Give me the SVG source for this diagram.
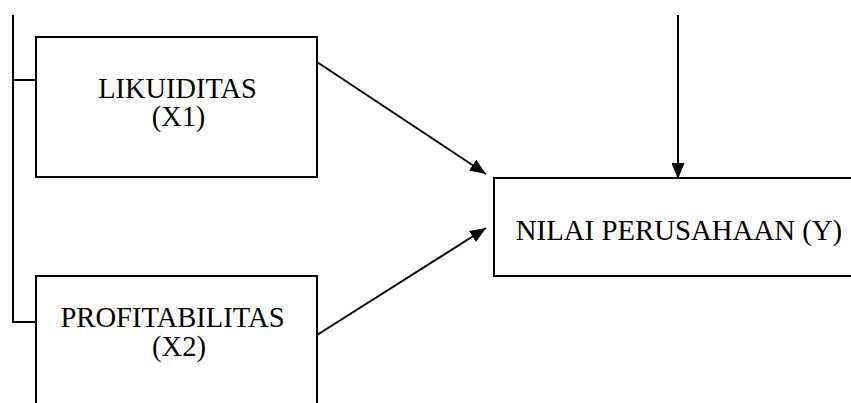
<svg xmlns="http://www.w3.org/2000/svg" width="851" height="403" viewBox="0 0 851 403">
<style>
.box{fill:#fff;stroke:#000;stroke-width:2}
.ln{fill:none;stroke:#000;stroke-width:2}
text{fill:#000;text-anchor:middle}
</style>
<defs>
<marker id="ah" markerWidth="16" markerHeight="13" refX="16" refY="6.5" orient="auto" markerUnits="userSpaceOnUse">
<path d="M0,0 L16,6.5 L0,13 Z" fill="#000"/>
</marker>
</defs>
<rect width="851" height="403" fill="#fff"/>
<g id="connectors">
<path class="ln" d="M13,15 V322 H36"/>
<path class="ln" d="M13,80 H36"/>
<path class="ln" d="M317,62 L486,174" marker-end="url(#ah)"/>
<path class="ln" d="M317,335 L486,228" marker-end="url(#ah)"/>
<path class="ln" d="M678,15 V179" marker-end="url(#ah)"/>
</g>
<g id="likuiditas" font-family="'Liberation Serif', 'DejaVu Serif', serif" font-size="28.4">
<rect class="box" x="36" y="37" width="281" height="140"/>
<text x="177.5" y="98">LIKUIDITAS</text>
<text x="178.5" y="126">(X1)</text>
</g>
<g id="profitabilitas" font-family="'Liberation Serif', 'DejaVu Serif', serif" font-size="28.6">
<rect class="box" x="36" y="276" width="281" height="140"/>
<text x="172.5" y="327">PROFITABILITAS</text>
<text x="179" y="356">(X2)</text>
</g>
<g id="nilai" font-family="'Liberation Serif', 'DejaVu Serif', serif" font-size="28.8">
<rect class="box" x="494" y="178" width="372" height="98"/>
<text x="679" y="240">NILAI PERUSAHAAN (Y)</text>
</g>
</svg>
